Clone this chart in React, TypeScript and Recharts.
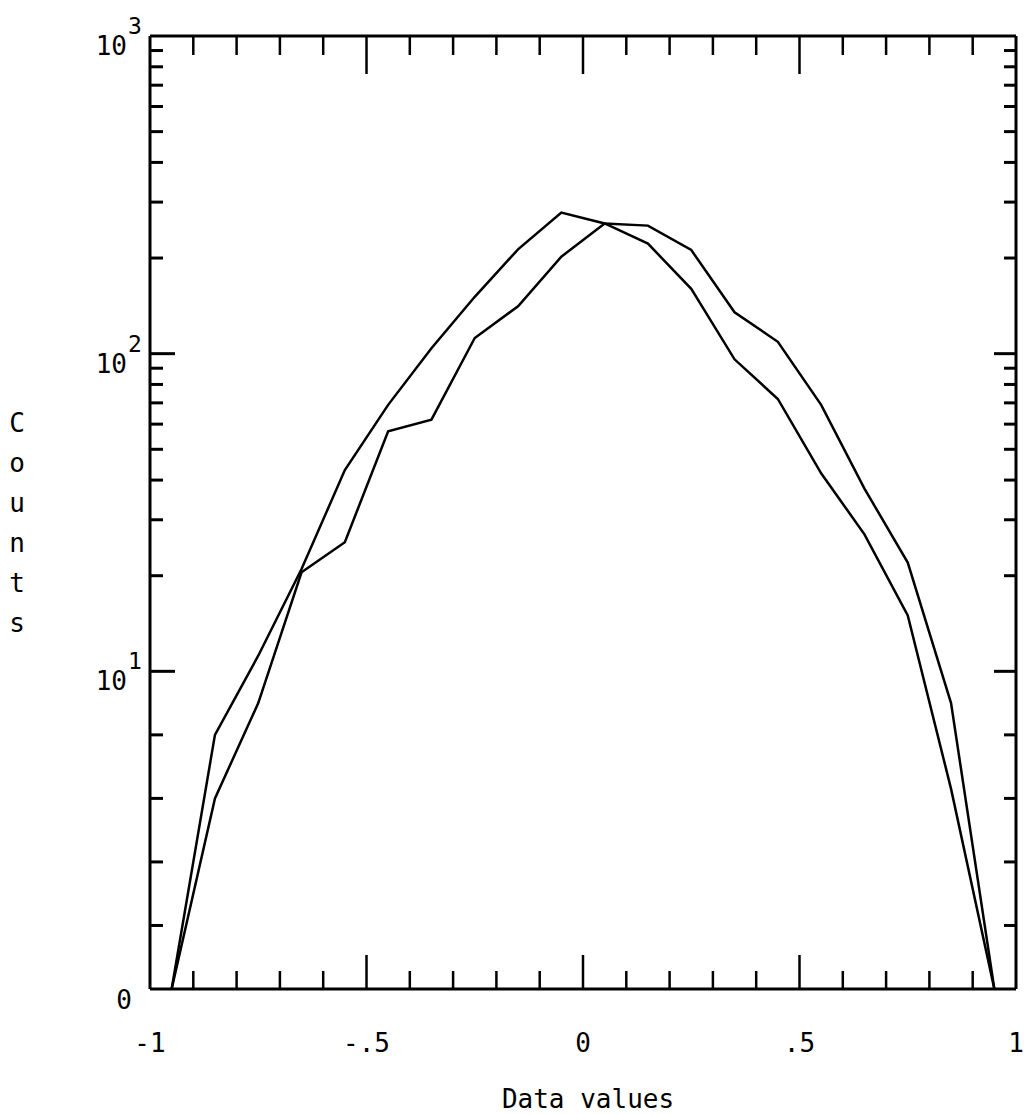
import { Line, LineChart, XAxis, YAxis } from "recharts";

// histogram bin centres and counts for the two samples
const BIN_CENTERS = [
  -0.95, -0.85, -0.75, -0.65, -0.55, -0.45, -0.35, -0.25, -0.15, -0.05,
  0.05, 0.15, 0.25, 0.35, 0.45, 0.55, 0.65, 0.75, 0.85, 0.95,
];
const COUNTS_A = [0, 8, 11.2, 21, 43, 69, 104, 151, 213, 278, 257, 222, 160, 96, 72, 42, 27, 15, 6.3, 0];
const COUNTS_B = [0, 6, 9, 20.5, 25.5, 57, 62, 112, 141, 202, 257, 253, 212, 135, 109, 69, 37.6, 22, 9, 0];

const X_TICKS = [
  -1, -0.9, -0.8, -0.7, -0.6, -0.5, -0.4, -0.3, -0.2, -0.1, 0,
  0.1, 0.2, 0.3, 0.4, 0.5, 0.6, 0.7, 0.8, 0.9, 1,
];
const X_MAJOR = [-1, -0.5, 0, 0.5, 1];
const X_LABELS = ["-1", "-.5", "0", ".5", "1"];

const Y_TICK_COUNTS = [
  0, 2, 4, 6, 8, 10, 20, 30, 40, 50, 60, 70, 80, 90,
  100, 200, 300, 400, 500, 600, 700, 800, 900, 1000,
];
const Y_DECADES = [0, 10, 100, 1000];
const Y_DECADE_EXP = ["", "1", "2", "3"];

const FONT = "DejaVu Sans Mono";

// axis is linear from 0 to 10, logarithmic above
const toAxis = (v: number) => (v <= 10 ? v / 10 : 1 + Math.log10(v / 10));
const fromAxis = (a: number) => Math.round(a <= 1 ? a * 10 : 10 * Math.pow(10, a - 1));

const rows = BIN_CENTERS.map((x, i) => ({
  x,
  a: toAxis(COUNTS_A[i]),
  b: toAxis(COUNTS_B[i]),
}));

const isMajorX = (v: number) => X_MAJOR.some((m) => Math.abs(m - v) < 1e-6);

function BottomTick({ x, y, payload }: any) {
  const v = payload.value as number;
  const major = isMajorX(v);
  const li = X_MAJOR.findIndex((m) => Math.abs(m - v) < 1e-6);
  const edge = Math.abs(Math.abs(v) - 1) < 1e-6;
  return (
    <g>
      {!edge && (
        <line x1={x} y1={y} x2={x} y2={y - (major ? 34 : 18)} stroke="#000" strokeWidth={2.5} />
      )}
      {li >= 0 && (
        <text x={x} y={y + 63} textAnchor="middle" fontFamily={FONT} fontSize={26} fill="#000">
          {X_LABELS[li]}
        </text>
      )}
    </g>
  );
}

function TopTick({ x, y, payload }: any) {
  const v = payload.value as number;
  if (Math.abs(Math.abs(v) - 1) < 1e-6) return <g />;
  return (
    <line x1={x} y1={y} x2={x} y2={y + (isMajorX(v) ? 38 : 19)} stroke="#000" strokeWidth={2.5} />
  );
}

function LeftTick({ x, y, payload }: any) {
  const c = fromAxis(payload.value);
  const d = Y_DECADES.indexOf(c);
  const edge = c === 0 || c === 1000;
  return (
    <g>
      {!edge && (
        <line x1={x} y1={y} x2={x + (d >= 0 ? 25 : 13)} y2={y} stroke="#000" strokeWidth={3} />
      )}
      {c === 0 && (
        <text x={x - 18} y={y + 20} textAnchor="end" fontFamily={FONT} fontSize={26} fill="#000">
          0
        </text>
      )}
      {d > 0 && (
        <g fontFamily={FONT} fill="#000">
          <text x={x - 23} y={y + 19} textAnchor="end" fontSize={26}>
            10
          </text>
          <text x={x - 22} y={y - 2} fontSize={23}>
            {Y_DECADE_EXP[d]}
          </text>
        </g>
      )}
    </g>
  );
}

function RightTick({ x, y, payload }: any) {
  const c = fromAxis(payload.value);
  if (c === 0 || c === 1000) return <g />;
  const d = Y_DECADES.indexOf(c);
  return <line x1={x} y1={y} x2={x - (d >= 0 ? 22 : 12)} y2={y} stroke="#000" strokeWidth={3} />;
}

const COUNTS_LETTERS = ["C", "o", "u", "n", "t", "s"];

export default function App() {
  const yTicks = Y_TICK_COUNTS.map(toAxis);
  const frame = { stroke: "#000", strokeWidth: 3 };
  return (
    <div style={{ position: "absolute", left: 0, top: 0, width: 1024, height: 1114, background: "#fff" }}>
      <LineChart width={1024} height={1114} data={rows} margin={{ top: 35, right: 7, bottom: 124, left: 149 }}>
        <XAxis
          xAxisId="b"
          dataKey="x"
          type="number"
          domain={[-1, 1]}
          ticks={X_TICKS}
          interval={0}
          allowDataOverflow
          height={1}
          tickSize={0}
          tickMargin={0}
          tickLine={false}
          axisLine={frame}
          tick={(p: any) => <BottomTick {...p} />}
        />
        <XAxis
          xAxisId="t"
          dataKey="x"
          orientation="top"
          type="number"
          domain={[-1, 1]}
          ticks={X_TICKS}
          interval={0}
          allowDataOverflow
          height={1}
          tickSize={0}
          tickMargin={0}
          tickLine={false}
          axisLine={frame}
          tick={(p: any) => <TopTick {...p} />}
        />
        <YAxis
          yAxisId="l"
          type="number"
          domain={[0, 3]}
          ticks={yTicks}
          interval={0}
          allowDataOverflow
          width={1}
          tickSize={0}
          tickMargin={0}
          tickLine={false}
          axisLine={frame}
          tick={(p: any) => <LeftTick {...p} />}
        />
        <YAxis
          yAxisId="r"
          orientation="right"
          type="number"
          domain={[0, 3]}
          ticks={yTicks}
          interval={0}
          allowDataOverflow
          width={1}
          tickSize={0}
          tickMargin={0}
          tickLine={false}
          axisLine={frame}
          tick={(p: any) => <RightTick {...p} />}
        />
        <Line
          xAxisId="b"
          yAxisId="l"
          type="linear"
          dataKey="a"
          stroke="#000"
          strokeWidth={2.5}
          dot={false}
          isAnimationActive={false}
        />
        {/* second sample drawn on the top/right axes (same domains) */}
        <Line
          xAxisId="t"
          yAxisId="r"
          type="linear"
          dataKey="b"
          stroke="#000"
          strokeWidth={2.5}
          dot={false}
          isAnimationActive={false}
        />
        <text x={588} y={1108} textAnchor="middle" fontFamily={FONT} fontSize={26} fill="#000">
          Data values
        </text>
        {COUNTS_LETTERS.map((ch, i) => (
          <text key={ch} x={17} y={432 + i * 40} textAnchor="middle" fontFamily={FONT} fontSize={26} fill="#000">
            {ch}
          </text>
        ))}
      </LineChart>
    </div>
  );
}
